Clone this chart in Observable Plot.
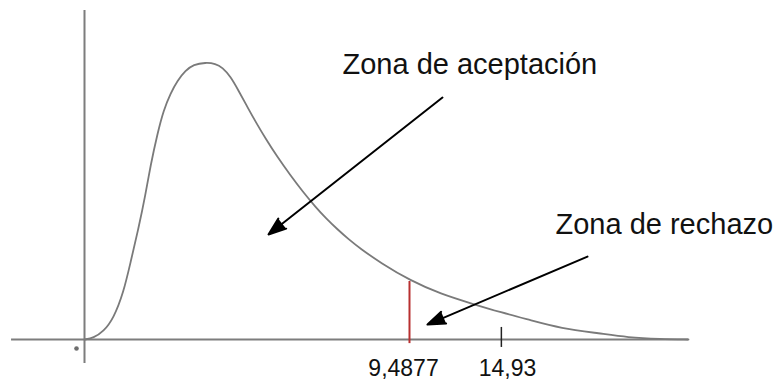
<!DOCTYPE html>
<html>
<head>
<meta charset="utf-8">
<script src="https://cdn.jsdelivr.net/npm/d3@7"></script>
<script src="https://cdn.jsdelivr.net/npm/@observablehq/plot@0.6"></script>
<style>
  html, body { margin: 0; padding: 0; background: #ffffff; }
  #chart svg { display: block; font-family: "Liberation Sans", Arial, sans-serif; }
</style>
</head>
<body>
<div id="chart"></div>
<script>
// Curve (schematic chi-square density)
const curveX = [0, 0.263, 0.555, 0.847, 1.139, 1.343, 1.576, 1.781, 1.927, 2.131, 2.306, 2.511, 2.715, 2.948, 3.182, 3.532, 3.824, 4.029, 4.262, 4.496, 4.758, 5.021, 5.284, 5.634, 6.014, 6.364, 6.743, 7.065, 7.386, 7.707, 8.057, 8.641, 9.517, 10.393, 11.356, 12.144, 13.020, 13.896, 15.064, 15.852, 16.815, 17.633];
const curveY = [0, 0.0011, 0.0058, 0.0153, 0.0343, 0.0562, 0.0810, 0.1058, 0.1269, 0.1503, 0.1671, 0.1795, 0.1889, 0.1962, 0.2006, 0.2021, 0.2013, 0.1984, 0.1919, 0.1816, 0.1695, 0.1577, 0.1467, 0.1330, 0.1197, 0.1081, 0.0967, 0.0880, 0.0803, 0.0732, 0.0662, 0.0560, 0.0429, 0.0333, 0.0258, 0.0199, 0.0141, 0.0082, 0.0044, 0.0015, 0.0003, 0];

// Critical value (red line) and its height on the curve
const criticalValue = 9.4877;
const criticalHeight = 0.0423;
// Second marked point (schematic position on the axis)
const secondTick = 12.17;

// Tick labels and their positions
const tickLabels = ["9,4877", "14,93"];
const tickLabelX = [9.313, 12.349];

// Zone annotations
const zoneLabels = ["Zona de aceptación", "Zona de rechazo"];
const zoneLabelX = [7.532, 13.75];
const zoneLabelY = [0.194, 0.0773];

// Arrows (start -> tip)
const arrowX1 = [10.451, 14.684];
const arrowY1 = [0.1765, 0.0605];
const arrowX2 = [5.371, 10.013];
const arrowY2 = [0.0766, 0.0109];

const xMax = 17.633;
const yMax = 0.24;

const curve = curveX.map((x, i) => ({x, y: curveY[i]}));
const ticks = tickLabels.map((label, i) => ({label, x: tickLabelX[i]}));
const zones = zoneLabels.map((label, i) => ({label, x: zoneLabelX[i], y: zoneLabelY[i]}));
const arrows = arrowX1.map((x1, i) => ({x1, y1: arrowY1[i], x2: arrowX2[i], y2: arrowY2[i]}));

const chart = Plot.plot({
  width: 777,
  height: 381,
  marginLeft: 84,
  marginRight: 89,
  marginTop: 10,
  marginBottom: 42,
  x: {domain: [0, xMax], axis: null},
  y: {domain: [0, yMax], axis: null},
  style: {background: "#ffffff", fontFamily: "Liberation Sans, Arial, sans-serif"},
  marks: [
    // axes
    Plot.ruleY([0], {x1: -2.13, x2: xMax, stroke: "#7d7d7d", strokeWidth: 2}),
    Plot.ruleX([0], {y1: -0.0175, y2: yMax, stroke: "#7d7d7d", strokeWidth: 2}),
    Plot.dot([{x: -0.234, y: -0.0066}], {x: "x", y: "y", r: 2.3, fill: "#6e6e6e", stroke: null}),
    // density curve
    Plot.line(curve, {x: "x", y: "y", curve: "basis", stroke: "#7a7a7a", strokeWidth: 1.8}),
    // critical value line
    Plot.ruleX([criticalValue], {y1: -0.003, y2: criticalHeight, stroke: "#b83030", strokeWidth: 2}),
    // second tick
    Plot.ruleX([secondTick], {y1: -0.0058, y2: 0.0088, stroke: "#222222", strokeWidth: 1.5}),
    // tick labels
    Plot.text(ticks, {x: "x", y: -0.0263, text: "label", fontSize: 23, fill: "#111111", textAnchor: "middle", lineAnchor: "bottom"}),
    // zone labels
    Plot.text(zones, {x: "x", y: "y", text: "label", fontSize: 29, fill: "#111111", textAnchor: "start", lineAnchor: "bottom"}),
    // arrows
    Plot.arrow(arrows, {x1: "x1", y1: "y1", x2: "x2", y2: "y2", stroke: "#000000", fill: "#000000", strokeWidth: 2, headLength: 14, headAngle: 40})
  ]
});
document.getElementById("chart").appendChild(chart);
</script>
</body>
</html>
